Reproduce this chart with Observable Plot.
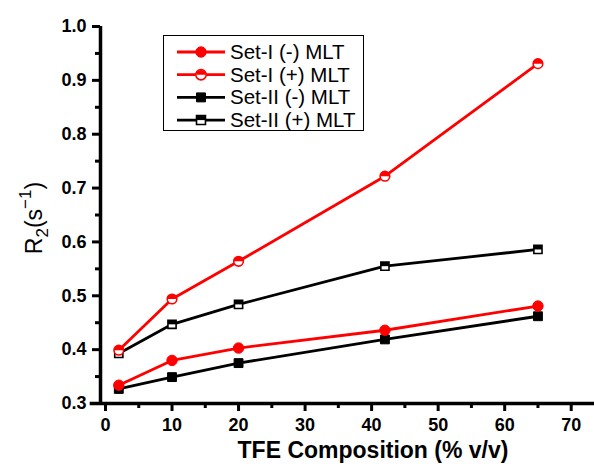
<!DOCTYPE html>
<html>
<head>
<meta charset="utf-8">
<script src="https://cdn.jsdelivr.net/npm/d3@7"></script>
<script src="https://cdn.jsdelivr.net/npm/@observablehq/plot@0.6"></script>
<style>
html,body{margin:0;padding:0;background:#fff;}
#chart{width:594px;height:466px;}
</style>
</head>
<body>
<div id="chart"></div>
<script>
// ---- data ----
const tfe = [2, 10, 20, 42, 65];
const setIMinus  = [0.334, 0.380, 0.403, 0.436, 0.481];
const setIPlus   = [0.399, 0.494, 0.564, 0.722, 0.931];
const setIIMinus = [0.327, 0.349, 0.375, 0.419, 0.462];
const setIIPlus  = [0.393, 0.447, 0.484, 0.555, 0.586];
const seriesNames = ["Set-I (-) MLT", "Set-I (+) MLT", "Set-II (-) MLT", "Set-II (+) MLT"];
const seriesColors = ["#ff0000", "#ff0000", "#000000", "#000000"];
const seriesShapes = ["circle", "circle", "square", "square"];
const seriesOpen = [false, true, false, true];
const seriesValues = [setIMinus, setIPlus, setIIMinus, setIIPlus];
const xTicks = [0, 10, 20, 30, 40, 50, 60, 70];
const xMinor = [5, 15, 25, 35, 45, 55, 65];
const yTicks = [0.3, 0.4, 0.5, 0.6, 0.7, 0.8, 0.9, 1.0];
const yMinor = [0.35, 0.45, 0.55, 0.65, 0.75, 0.85, 0.95];
const xLabel = "TFE Composition (% v/v)";

const rows = [];
seriesNames.forEach((s, i) => tfe.forEach((x, j) => rows.push({series: s, i, x, y: seriesValues[i][j]})));

const halfCircle = {draw(ctx, size) { const r = Math.sqrt(size / Math.PI); ctx.moveTo(r, 0); ctx.arc(0, 0, r, 0, Math.PI, true); ctx.closePath(); }};
const halfSquare = {draw(ctx, size) { const w = Math.sqrt(size) / 2; ctx.moveTo(-w, -w); ctx.lineTo(w, -w); ctx.lineTo(w, 0); ctx.lineTo(-w, 0); ctx.closePath(); }};

const FONT = '"Liberation Sans", Arial, sans-serif';
const xDom = [-0.75, 73.5];
const yDom = [0.3, 1.0];
const order = [2, 3, 0, 1];
const marks = [];
order.forEach(i => {
  const d = rows.filter(r => r.i === i);
  const c = seriesColors[i];
  const isC = seriesShapes[i] === "circle";
  marks.push(Plot.line(d, {x: "x", y: "y", stroke: c, strokeWidth: 2.8}));
  if (!seriesOpen[i]) {
    marks.push(Plot.dot(d, {x: "x", y: "y", symbol: seriesShapes[i], r: isC ? 5.2 : 5, fill: c, stroke: c, strokeWidth: 1}));
  } else {
    marks.push(Plot.dot(d, {x: "x", y: "y", symbol: seriesShapes[i], r: isC ? 4.8 : 4.6, fill: "white", stroke: c, strokeWidth: 1.6}));
    marks.push(Plot.dot(d, {x: "x", y: "y", symbol: isC ? halfCircle : halfSquare, r: isC ? 4.8 : 4.6, fill: c}));
  }
});

const chart = Plot.plot({
  width: 594, height: 466,
  marginLeft: 100, marginRight: 0, marginTop: 26, marginBottom: 63,
  x: {domain: xDom},
  y: {domain: yDom},
  style: {fontFamily: FONT, background: "white", color: "black"},
  marks: [
    Plot.axisX({ticks: xTicks, tickSize: 8, tickPadding: 7, strokeWidth: 3, fontSize: 18, fontWeight: "bold", label: null, tickFormat: d => String(d)}),
    Plot.axisX({ticks: xMinor, tickSize: 5, strokeWidth: 3, text: null, label: null}),
    Plot.axisY({ticks: yTicks, tickSize: 8, tickPadding: 6, strokeWidth: 3, fontSize: 18, fontWeight: "bold", label: null, tickFormat: d => d.toFixed(1)}),
    Plot.axisY({ticks: yMinor, tickSize: 5, strokeWidth: 3, text: null, label: null}),
    Plot.ruleX([xDom[0]], {y1: yDom[0], y2: yDom[1], stroke: "black", strokeWidth: 3.5}),
    Plot.ruleY([yDom[0]], {x1: -2.3, x2: xDom[1], stroke: "black", strokeWidth: 3.5}),
    ...marks
  ]
});
document.getElementById("chart").appendChild(chart);

// ---- axis titles and legend ----
const svg = d3.select(chart);
svg.append("text")
  .attr("x", 373).attr("y", 458)
  .attr("text-anchor", "middle")
  .attr("font-family", FONT)
  .attr("font-size", 23).attr("font-weight", "bold").attr("fill", "black")
  .text(xLabel);

const yl = svg.append("text")
  .attr("transform", "translate(42,218) rotate(-90)")
  .attr("text-anchor", "middle")
  .attr("font-family", FONT)
  .attr("font-size", 23).attr("fill", "black");
yl.append("tspan").text("R");
yl.append("tspan").attr("font-size", 17).attr("dy", 6).text("2");
yl.append("tspan").attr("dy", -6).text("(s");
yl.append("tspan").attr("font-size", 17).attr("dy", -11).text("\u22121");
yl.append("tspan").attr("dy", 11).text(")");

const lg = svg.append("g");
lg.append("rect").attr("x", 163.5).attr("y", 35.5).attr("width", 200).attr("height", 95)
  .attr("fill", "white").attr("stroke", "#000").attr("stroke-width", 1);
seriesNames.forEach((name, i) => {
  const yy = 52 + i * 22.7;
  const c = seriesColors[i];
  const isC = seriesShapes[i] === "circle";
  lg.append("line").attr("x1", 177).attr("x2", 225).attr("y1", yy).attr("y2", yy)
    .attr("stroke", c).attr("stroke-width", 2.8);
  const sym = isC ? d3.symbolCircle : d3.symbolSquare;
  const size = isC ? Math.PI * 27 : 80;
  lg.append("path").attr("d", d3.symbol(sym, size)()).attr("transform", `translate(201,${yy})`)
    .attr("fill", seriesOpen[i] ? "white" : c).attr("stroke", c).attr("stroke-width", seriesOpen[i] ? 1.6 : 1);
  if (seriesOpen[i]) {
    lg.append("path").attr("d", d3.symbol(isC ? halfCircle : halfSquare, isC ? Math.PI * 23 : 66)())
      .attr("transform", `translate(201,${yy})`).attr("fill", c);
  }
  lg.append("text").attr("x", 230).attr("y", yy + 7).attr("text-anchor", "start")
    .attr("font-family", FONT)
    .attr("font-size", 20.5).attr("fill", "black").text(name);
});
</script>
</body>
</html>
